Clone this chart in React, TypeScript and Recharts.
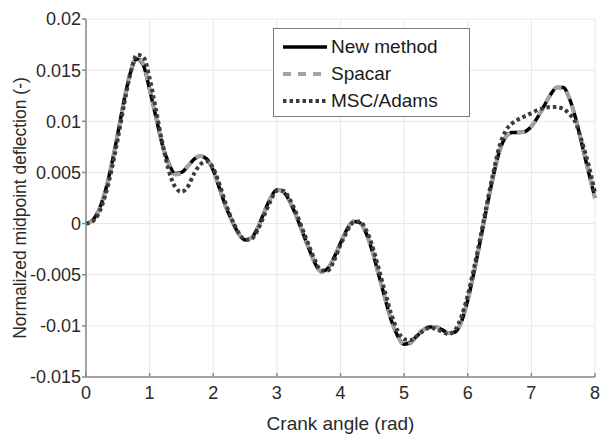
import { CartesianGrid, Label, Legend, Line, LineChart, XAxis, YAxis } from 'recharts';

const crankAngle = [
  0, 0.1, 0.2, 0.3, 0.4, 0.5, 0.6, 0.7, 0.8, 0.9, 1, 1.1, 1.2, 1.3, 1.4, 1.5, 1.6, 1.7, 1.8, 1.9,
  2, 2.1, 2.2, 2.3, 2.4, 2.5, 2.6, 2.7, 2.8, 2.9, 3, 3.1, 3.2, 3.3, 3.4, 3.5, 3.6, 3.7, 3.8, 3.9,
  4, 4.1, 4.2, 4.3, 4.4, 4.5, 4.6, 4.7, 4.8, 4.9, 5, 5.1, 5.2, 5.3, 5.4, 5.5, 5.6, 5.7, 5.8, 5.9,
  6, 6.1, 6.2, 6.3, 6.4, 6.5, 6.6, 6.7, 6.8, 6.9, 7, 7.1, 7.2, 7.3, 7.4, 7.5, 7.6, 7.7, 7.8, 7.9, 8,
];

const newMethod = [
  0, 0.0003, 0.0013, 0.0031, 0.0057, 0.0088, 0.0121, 0.0148, 0.0161, 0.0155,
  0.0131, 0.0104, 0.0077, 0.0059, 0.0049, 0.005, 0.0056, 0.0063, 0.0066, 0.0063,
  0.0052, 0.0034, 0.0016, 0.0002, -0.001, -0.0016, -0.0014, -0.0004, 0.0011, 0.0025,
  0.0033, 0.0031, 0.0022, 0.0008, -0.0008, -0.0024, -0.0039, -0.0047, -0.0044, -0.0033,
  -0.0019, -0.0006, 0.0002, 0.0001, -0.0009, -0.0027, -0.005, -0.0073, -0.0095, -0.011,
  -0.0118, -0.0116, -0.011, -0.0104, -0.0101, -0.0101, -0.0104, -0.0107, -0.0106, -0.0096,
  -0.0075, -0.0047, -0.0016, 0.0016, 0.0046, 0.0071, 0.0085, 0.0089, 0.0089, 0.009,
  0.0095, 0.0104, 0.0115, 0.0126, 0.0133, 0.0133, 0.0122, 0.0102, 0.0076, 0.005, 0.0025,
];

const spacar = [
  0, 0.0003, 0.0013, 0.0031, 0.0057, 0.0088, 0.0121, 0.0149, 0.0162, 0.0156,
  0.0132, 0.0104, 0.0077, 0.0058, 0.0048, 0.0049, 0.0056, 0.0063, 0.0066, 0.0063,
  0.0052, 0.0034, 0.0016, 0.0002, -0.001, -0.0016, -0.0014, -0.0004, 0.0011, 0.0025,
  0.0033, 0.0031, 0.0022, 0.0008, -0.0008, -0.0024, -0.0039, -0.0047, -0.0044, -0.0033,
  -0.0019, -0.0006, 0.0002, 0.0001, -0.0009, -0.0027, -0.005, -0.0073, -0.0095, -0.011,
  -0.0119, -0.0117, -0.011, -0.0104, -0.0101, -0.0101, -0.0104, -0.0107, -0.0106, -0.0096,
  -0.0075, -0.0047, -0.0016, 0.0016, 0.0046, 0.0071, 0.0085, 0.0089, 0.0089, 0.009,
  0.0095, 0.0104, 0.0115, 0.0126, 0.0133, 0.0133, 0.0122, 0.0102, 0.0076, 0.005, 0.0025,
];

const mscAdams = [
  0, 0.0002, 0.001, 0.0027, 0.0052, 0.0083, 0.0117, 0.0147, 0.0165, 0.0163,
  0.0142, 0.0111, 0.0079, 0.0052, 0.0036, 0.0031, 0.0036, 0.0049, 0.0058, 0.0061,
  0.0054, 0.0038, 0.0019, 0.0003, -0.0009, -0.0016, -0.0015, -0.0006, 0.0008, 0.0022,
  0.0032, 0.0032, 0.0024, 0.0011, -0.0005, -0.0021, -0.0036, -0.0046, -0.0046, -0.0036,
  -0.0021, -0.0008, 0.0001, 0.0002, -0.0006, -0.0022, -0.0044, -0.0067, -0.0089, -0.0105,
  -0.0113, -0.0114, -0.011, -0.0105, -0.0102, -0.0103, -0.0106, -0.0108, -0.0104, -0.0091,
  -0.007, -0.0043, -0.0013, 0.0019, 0.0049, 0.0076, 0.0091, 0.0098, 0.0102, 0.0105,
  0.0108, 0.0111, 0.0113, 0.0114, 0.0114, 0.0112, 0.0107, 0.0098, 0.0079, 0.0057, 0.003,
];

const xTicks = [0, 1, 2, 3, 4, 5, 6, 7, 8];
const yTicks = [-0.015, -0.01, -0.005, 0, 0.005, 0.01, 0.015, 0.02];

const series = [
  { key: 'newMethod', name: 'New method', color: '#000000', width: 3.5, dash: undefined },
  { key: 'spacar', name: 'Spacar', color: '#a3a3a3', width: 4, dash: '8 7' },
  { key: 'mscAdams', name: 'MSC/Adams', color: '#3c3c3c', width: 4, dash: '3.5 3' },
];

const data = crankAngle.map((x, i) => ({
  x,
  newMethod: newMethod[i],
  spacar: spacar[i],
  mscAdams: mscAdams[i],
}));

const FONT = '"Liberation Sans", Arial, sans-serif';

const LegendBox = () => (
  <div
    style={{
      boxSizing: 'border-box',
      width: 197,
      height: 89,
      border: '1.5px solid #7a7a7a',
      background: '#fff',
      padding: '4px 0 0 8px',
      fontFamily: FONT,
      fontSize: 19,
      color: '#1a1a1a',
    }}
  >
    {series.map((s) => (
      <div key={s.key} style={{ display: 'flex', alignItems: 'center', height: 27 }}>
        <svg width={46} height={10} style={{ marginRight: 3 }}>
          <line
            x1={1}
            y1={5}
            x2={45}
            y2={5}
            stroke={s.color}
            strokeWidth={s.width}
            strokeDasharray={s.dash}
          />
        </svg>
        <span>{s.name}</span>
      </div>
    ))}
  </div>
);

const YTitle = () => (
  <text
    x={20}
    y={208}
    transform="rotate(-90 20 208)"
    textAnchor="middle"
    dominantBaseline="central"
    fill="#2a2a2a"
    fontSize={17.5}
    fontFamily={FONT}
  >
    Normalized midpoint deflection (-)
  </text>
);

export default function App() {
  return (
    <div style={{ position: 'absolute', left: 0, top: 0, width: 607, height: 437, background: '#fff' }}>
      <LineChart
        width={607}
        height={437}
        data={data}
        margin={{ top: 19, right: 12, left: 0, bottom: 0 }}
      >
        <CartesianGrid stroke="#e8e8e8" strokeWidth={1} />
        <XAxis
          dataKey="x"
          type="number"
          domain={[0, 8]}
          ticks={xTicks}
          height={60}
          stroke="#888"
          strokeWidth={1.5}
          tickSize={-4}
          tickMargin={13}
          tick={{ fill: '#2a2a2a', fontSize: 18, fontFamily: FONT }}
        >
          <Label
            value="Crank angle (rad)"
            position="insideBottom"
            offset={7}
            fill="#2a2a2a"
            fontSize={19}
            fontFamily={FONT}
          />
        </XAxis>
        <YAxis
          type="number"
          domain={[-0.015, 0.02]}
          ticks={yTicks}
          width={86}
          stroke="#888"
          strokeWidth={1.5}
          tickSize={4}
          tickMargin={1}
          tick={{ fill: '#2a2a2a', fontSize: 18, fontFamily: FONT }}
        >
          <Label content={<YTitle />} />
        </YAxis>
        <Legend
          layout="horizontal"
          verticalAlign="middle"
          align="center"
          content={<LegendBox />}
          wrapperStyle={{ left: 273, top: 28, width: 197, height: 89 }}
        />
        {series.map((s) => (
          <Line
            key={s.key}
            dataKey={s.key}
            name={s.name}
            type="monotone"
            stroke={s.color}
            strokeWidth={s.width}
            strokeDasharray={s.dash}
            dot={false}
            activeDot={false}
            isAnimationActive={false}
          />
        ))}
      </LineChart>
    </div>
  );
}
